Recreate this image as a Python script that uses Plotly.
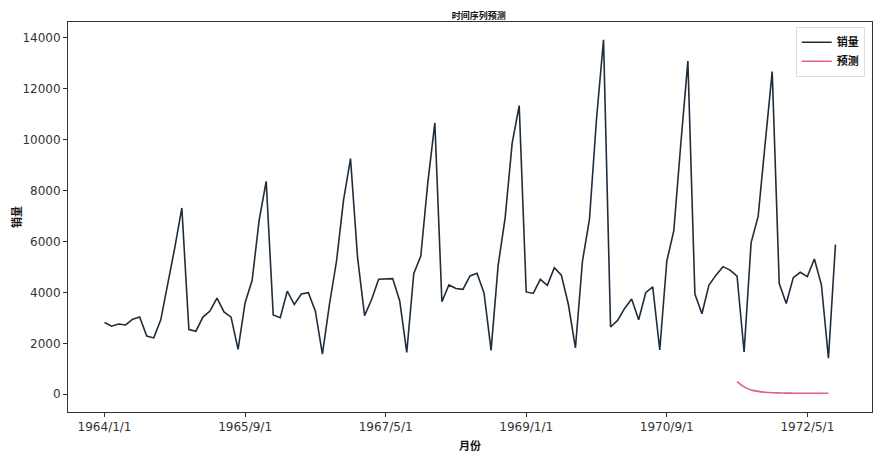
import plotly.graph_objects as go

months = [f"{1964 + (i // 12)}/{i % 12 + 1}/1" for i in range(105)]

sales = [
    2815, 2672, 2755, 2721, 2946, 3036, 2282, 2212, 2922, 4301, 5764, 7312,
    2541, 2475, 3031, 3266, 3776, 3230, 3028, 1759, 3595, 4474, 6838, 8357,
    3113, 3006, 4047, 3523, 3937, 3986, 3260, 1573, 3528, 5211, 7614, 9254,
    5375, 3088, 3718, 4514, 4520, 4539, 3663, 1643, 4739, 5428, 8314, 10651,
    3633, 4292, 4154, 4121, 4647, 4753, 3965, 1723, 5048, 6922, 9858, 11331,
    4016, 3957, 4510, 4276, 4968, 4677, 3523, 1821, 5222, 6872, 10803, 13916,
    2639, 2899, 3370, 3740, 2927, 3986, 4217, 1738, 5221, 6424, 9842, 13076,
    3934, 3162, 4286, 4676, 5010, 4874, 4633, 1659, 5951, 6981, 9851, 12670,
    4348, 3564, 4577, 4788, 4618, 5312, 4298, 1413, 5877,
]

pred_months = months[90:104]
pred_values = [500, 290, 170, 115, 80, 62, 52, 46, 42, 40, 40, 40, 40, 40]

tick_labels = ["1964/1/1", "1965/9/1", "1967/5/1", "1969/1/1", "1970/9/1", "1972/5/1"]
y_ticks = [0, 2000, 4000, 6000, 8000, 10000, 12000, 14000]

cjk = "Noto Sans CJK SC"
tickfont = dict(family="DejaVu Sans", size=12, color="#333333")

fig = go.Figure()
fig.add_trace(go.Scatter(x=months, y=sales, mode="lines", name="<b>销量</b>",
                         line=dict(color="#1f2d3a", width=1.6)))
fig.add_trace(go.Scatter(x=pred_months, y=pred_values, mode="lines", name="<b>预测</b>",
                         line=dict(color="#e0607f", width=1.6, shape="spline")))

fig.update_layout(
    width=880, height=451,
    margin=dict(l=60, r=16, t=14, b=47, autoexpand=False),
    paper_bgcolor="white", plot_bgcolor="white",
    title=dict(text="<b>时间序列预测</b>", x=0.535, xanchor="center", y=0.983, yanchor="middle",
               font=dict(family=cjk, size=9, color="#111111"), automargin=False),
    legend=dict(x=0.991, y=0.988, xanchor="right", yanchor="top",
                bgcolor="rgba(255,255,255,0.9)", bordercolor="#dddddd", borderwidth=1,
                font=dict(family=cjk, size=11, color="#111111"), itemwidth=30,
                tracegroupgap=4),
    showlegend=True,
)
fig.update_xaxes(
    type="category", categoryorder="array", categoryarray=months,
    range=[-5.2, 109.2], automargin=False,
    tickmode="array", tickvals=tick_labels, ticktext=tick_labels,
    ticks="outside", ticklen=4, tickcolor="#333333",
    showgrid=False, zeroline=False,
    showline=True, linecolor="#333333", linewidth=1, mirror=True,
    tickfont=tickfont,
    title=dict(text="<b>月份</b>", font=dict(family=cjk, size=11, color="#111111"), standoff=8),
)
fig.update_yaxes(
    range=[-696, 14612], automargin=False,
    tickmode="array", tickvals=y_ticks, ticktext=[str(v) for v in y_ticks],
    ticks="outside", ticklen=4, tickcolor="#333333",
    showgrid=False, zeroline=False,
    showline=True, linecolor="#333333", linewidth=1, mirror=True,
    tickfont=tickfont,
    title=dict(text="<b>销量</b>", font=dict(family=cjk, size=11, color="#111111"), standoff=2),
)

fig.write_html("out.html")
